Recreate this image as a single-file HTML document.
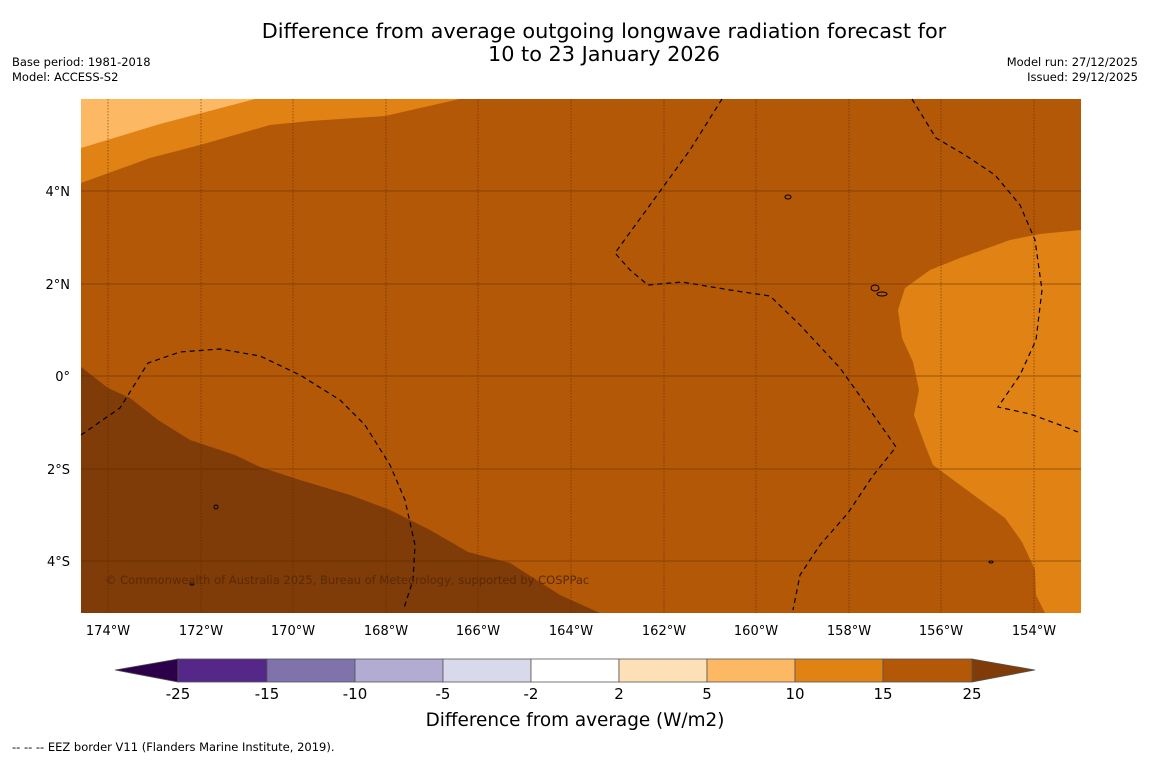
<!DOCTYPE html>
<html><head><meta charset="utf-8"><style>
body{margin:0;background:#fff;width:1150px;height:758px;overflow:hidden;font-family:"DejaVu Sans","Liberation Sans",sans-serif}
</style></head><body>
<svg width="1150" height="758" viewBox="0 0 1150 758" xmlns="http://www.w3.org/2000/svg">
<g font-family="DejaVu Sans, Liberation Sans, sans-serif">
<text x="604" y="38" font-size="20.8" text-anchor="middle">Difference from average outgoing longwave radiation forecast for</text>
<text x="604" y="61" font-size="20.8" text-anchor="middle">10 to 23 January 2026</text>
<text x="12" y="66" font-size="11.5">Base period: 1981-2018</text>
<text x="12" y="81" font-size="11.5">Model: ACCESS-S2</text>
<text x="1138" y="66" font-size="11.5" text-anchor="end">Model run: 27/12/2025</text>
<text x="1138" y="81" font-size="11.5" text-anchor="end">Issued: 29/12/2025</text>
</g>
<g>
<rect x="81" y="99" width="1000" height="514" fill="#b35806"/>
<polygon fill="#e08214" points="81,99 460,99 385,116 310,121 270,125 200,145 150,158 81,183"/>
<polygon fill="#fdb863" points="81,99 255,99 240,103 160,124 81,148"/>
<polygon fill="#e08214" points="1081,230 1040,234 1010,240 960,258 930,270 905,288 898,310 902,338 913,362 919,390 914,415 925,445 933,465 960,485 1005,518 1022,542 1035,570 1036,595 1045,613 1081,613"/>
<polygon fill="#7f3b08" points="81,367 108,388 130,398 158,420 190,440 235,455 260,467 300,480 350,495 390,510 430,530 468,552 510,563 560,595 600,613 81,613"/>
<g stroke="#5a2800" stroke-width="0.8" opacity="0.7">
<line x1="108" y1="99" x2="108" y2="613" stroke-dasharray="1.5,1.5"/>
<line x1="201" y1="99" x2="201" y2="613" stroke-dasharray="1.5,1.5"/>
<line x1="293" y1="99" x2="293" y2="613" stroke-dasharray="1.5,1.5"/>
<line x1="386" y1="99" x2="386" y2="613" stroke-dasharray="1.5,1.5"/>
<line x1="478" y1="99" x2="478" y2="613" stroke-dasharray="1.5,1.5"/>
<line x1="571" y1="99" x2="571" y2="613" stroke-dasharray="1.5,1.5"/>
<line x1="664" y1="99" x2="664" y2="613" stroke-dasharray="1.5,1.5"/>
<line x1="756" y1="99" x2="756" y2="613" stroke-dasharray="1.5,1.5"/>
<line x1="849" y1="99" x2="849" y2="613" stroke-dasharray="1.5,1.5"/>
<line x1="941" y1="99" x2="941" y2="613" stroke-dasharray="1.5,1.5"/>
<line x1="1034" y1="99" x2="1034" y2="613" stroke-dasharray="1.5,1.5"/>
<line x1="81" y1="191" x2="1081" y2="191"/>
<line x1="81" y1="284" x2="1081" y2="284"/>
<line x1="81" y1="376" x2="1081" y2="376"/>
<line x1="81" y1="469" x2="1081" y2="469"/>
<line x1="81" y1="561" x2="1081" y2="561"/>
</g>
<g fill="none" stroke="#000" stroke-width="1.2" stroke-dasharray="5,4">
<polyline points="722,99 690,150 650,205 615,253 630,270 648,285 682,282 730,290 770,296 800,325 840,368 870,410 896,447 872,477 848,513 820,545 800,575 793,610"/>
<polyline points="912,99 936,138 965,155 995,175 1020,205 1035,240 1042,290 1036,340 1020,375 998,407 1030,414 1060,425 1078,432"/>
<polyline points="81,435 120,408 148,363 180,352 220,349 260,356 300,375 340,400 365,425 390,465 405,500 415,545 413,580 404,608"/>
</g>
<g fill="none" stroke="#000" stroke-width="1">
<ellipse cx="788" cy="197" rx="3" ry="2"/>
<ellipse cx="875" cy="288" rx="4" ry="3"/>
<ellipse cx="882" cy="294" rx="5" ry="2"/>
<ellipse cx="216" cy="507" rx="2" ry="2"/>
<ellipse cx="192" cy="584" rx="2" ry="1"/>
<ellipse cx="991" cy="562" rx="2" ry="1"/>
</g>
<text x="105" y="584" font-size="11.5" fill="#5a2a05" font-family="DejaVu Sans, Liberation Sans, sans-serif">© Commonwealth of Australia 2025, Bureau of Meteorology, supported by COSPPac</text>
</g>
<g font-size="13" font-family="DejaVu Sans, Liberation Sans, sans-serif">
<text x="70" y="196" text-anchor="end">4°N</text>
<text x="70" y="289" text-anchor="end">2°N</text>
<text x="70" y="381" text-anchor="end">0°</text>
<text x="70" y="474" text-anchor="end">2°S</text>
<text x="70" y="566" text-anchor="end">4°S</text>
<text x="108" y="635" text-anchor="middle">174°W</text>
<text x="201" y="635" text-anchor="middle">172°W</text>
<text x="293" y="635" text-anchor="middle">170°W</text>
<text x="386" y="635" text-anchor="middle">168°W</text>
<text x="478" y="635" text-anchor="middle">166°W</text>
<text x="571" y="635" text-anchor="middle">164°W</text>
<text x="664" y="635" text-anchor="middle">162°W</text>
<text x="756" y="635" text-anchor="middle">160°W</text>
<text x="849" y="635" text-anchor="middle">158°W</text>
<text x="941" y="635" text-anchor="middle">156°W</text>
<text x="1034" y="635" text-anchor="middle">154°W</text>
</g>
<g stroke="#555" stroke-width="0.8">
<polygon points="178,659 115,670 178,682" fill="#2d004b"/>
<rect x="178" y="659" width="89" height="23" fill="#542788"/>
<rect x="267" y="659" width="88" height="23" fill="#8073ac"/>
<rect x="355" y="659" width="88" height="23" fill="#b2abd2"/>
<rect x="443" y="659" width="88" height="23" fill="#d8daeb"/>
<rect x="531" y="659" width="88" height="23" fill="#ffffff"/>
<rect x="619" y="659" width="88" height="23" fill="#fee0b6"/>
<rect x="707" y="659" width="88" height="23" fill="#fdb863"/>
<rect x="795" y="659" width="88" height="23" fill="#e08214"/>
<rect x="883" y="659" width="89" height="23" fill="#b35806"/>
<polygon points="972,659 1035,670 972,682" fill="#7f3b08"/>
</g>
<g font-size="15" text-anchor="middle" font-family="DejaVu Sans, Liberation Sans, sans-serif">
<text x="178" y="699">-25</text><text x="267" y="699">-15</text><text x="355" y="699">-10</text><text x="443" y="699">-5</text><text x="531" y="699">-2</text><text x="619" y="699">2</text><text x="707" y="699">5</text><text x="795" y="699">10</text><text x="883" y="699">15</text><text x="972" y="699">25</text>
</g>
<text x="575" y="726" font-size="18.4" text-anchor="middle" font-family="DejaVu Sans, Liberation Sans, sans-serif">Difference from average (W/m2)</text>
<text x="12" y="751" font-size="11.5" font-family="DejaVu Sans, Liberation Sans, sans-serif">--  --  -- EEZ border V11 (Flanders Marine Institute, 2019).</text>
</svg>
</body></html>
